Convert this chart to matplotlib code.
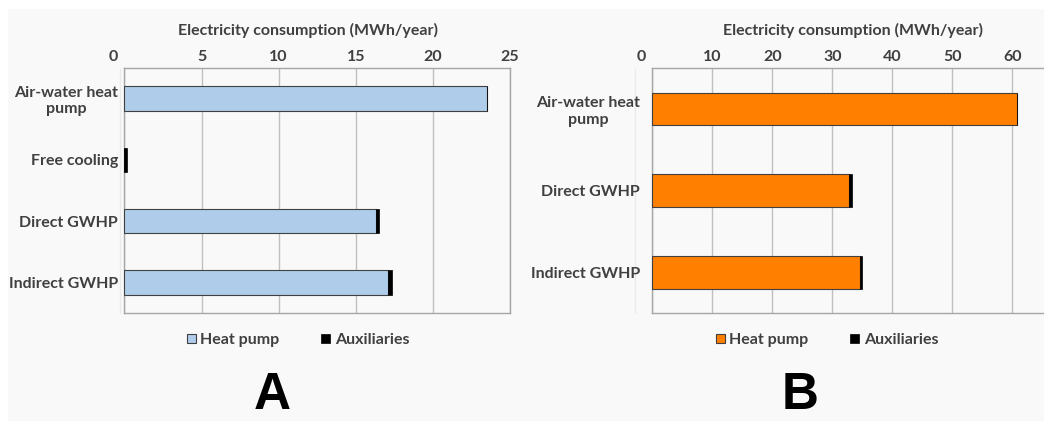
import numpy as np
import matplotlib.pyplot as plt
from matplotlib.transforms import ScaledTranslation
from matplotlib.patches import Rectangle
from matplotlib.lines import Line2D

plt.rcParams['font.family'] = ['Lato', 'DejaVu Sans']
plt.rcParams['font.weight'] = 'bold'

text_colour = '#404040'
grid_colour = '#c0c0c0'

# panel A
cats_a = ['Air-water heat\npump', 'Free cooling', 'Direct GWHP', 'Indirect GWHP']
heat_pump_a = [23.5, 0.0, 16.3, 17.1]
aux_a = [0.0, 0.15, 0.2, 0.22]
ticks_a = [0, 5, 10, 15, 20, 25]

# panel B
cats_b = ['Air-water heat\npump', 'Direct GWHP', 'Indirect GWHP']
heat_pump_b = [60.7, 32.8, 34.6]
aux_b = [0.0, 0.45, 0.35]
ticks_b = [0, 10, 20, 30, 40, 50, 60]

fig = plt.figure(figsize=(10.44, 4.21), dpi=100)
fig.patch.set_facecolor('white')

# light grey background of the panels
fig.add_artist(Rectangle((8 / 1044, 0), 1, 1 - 9 / 421, transform=fig.transFigure,
                         facecolor='#f9f9f9', edgecolor='none', zorder=-10))


def panel(rect, cats, hp, aux, ticks, xmax, colour, label_pad):
    ax = fig.add_axes(rect)
    ax.set_facecolor('#f9f9f9')
    y = np.arange(len(cats))
    ax.barh(y, hp, height=0.4, color=colour, edgecolor='#404040', linewidth=0.8,
            label='Heat pump', zorder=3)
    ax.barh(y, aux, left=hp, height=0.4, color='black', edgecolor='black',
            linewidth=0.5, label='Auxiliaries', zorder=3)
    ax.set_ylim(len(cats) - 0.5, -0.5)
    ax.set_xlim(0, xmax)
    ax.set_xticks(ticks)
    ax.xaxis.tick_top()
    ax.tick_params(axis='x', length=0, pad=3, labelsize=11.5, labelcolor=text_colour)
    ax.tick_params(axis='y', length=0, pad=label_pad, labelsize=11.5, labelcolor=text_colour)
    ax.set_yticks(y)
    ax.set_yticklabels(cats)
    for lab in ax.get_yticklabels():
        lab.set_multialignment('center')
    # Excel puts the "0" a little to the left of the axis
    lab0 = ax.get_xticklabels()[0]
    lab0.set_transform(lab0.get_transform() + ScaledTranslation(-11 / 100, 0, fig.dpi_scale_trans))
    ax.grid(axis='x', color=grid_colour, linewidth=1, zorder=0)
    for s in ax.spines.values():
        s.set_color('#a6a6a6')
        s.set_linewidth(1)
    return ax


ax_a = panel([124.5 / 1044, 108 / 421, 385.5 / 1044, 245 / 421],
             cats_a, heat_pump_a, aux_a, ticks_a, 25, '#afcdeb', 4.5)
ax_b = panel([652.3 / 1044, 108 / 421, 420 / 1044, 245 / 421],
             cats_b, heat_pump_b, aux_b, ticks_b, 70, '#ff8000', 9)

# faint old axis lines behind the category labels
for xp in (120, 635):
    fig.add_artist(Line2D([xp / 1044, xp / 1044], [108 / 421, 352 / 421],
                          transform=fig.transFigure, color='#ebebeb', linewidth=1,
                          zorder=-5))

for xc in (308, 853):
    fig.text(xc / 1044, 1 - 30 / 421, 'Electricity consumption (MWh/year)',
             ha='center', va='center', fontsize=11.5, color=text_colour)

for ax, xc in ((ax_a, 298), (ax_b, 827)):
    ax.legend(loc='center', bbox_to_anchor=(xc / 1044, 1 - 340 / 421),
              bbox_transform=fig.transFigure, ncol=2, frameon=False,
              handlelength=0.55, handleheight=0.55, handletextpad=0.3,
              columnspacing=2.6, fontsize=11.5, labelcolor=text_colour)

fig.text(272 / 1044, 1 / 421, 'A', ha='center', va='bottom',
         fontsize=37, fontweight='bold', family='Liberation Sans')
fig.text(800 / 1044, 1 / 421, 'B', ha='center', va='bottom',
         fontsize=37, fontweight='bold', family='Liberation Sans')

fig.savefig('out.png', dpi=100)
